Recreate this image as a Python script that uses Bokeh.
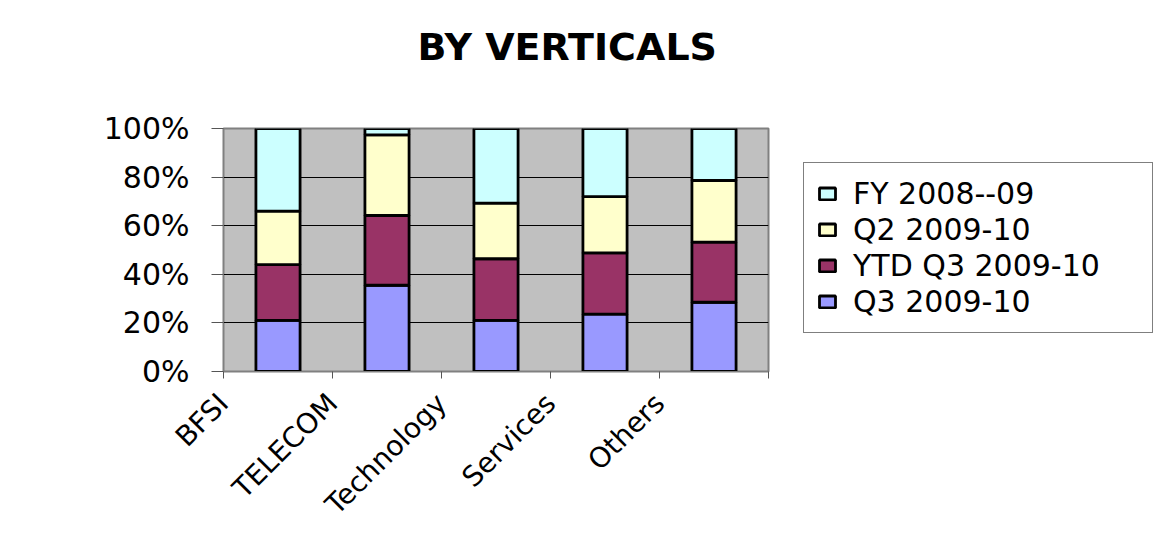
from math import pi
from bokeh.plotting import figure
from bokeh.models import (ColumnDataSource, Range1d, FixedTicker, PrintfTickFormatter,
                          Legend, LegendItem, Title)
from bokeh.embed import file_html
from bokeh.resources import INLINE

categories = ["BFSI", "TELECOM", "Technology", "Services", "Others"]
series_names = ["Q3 2009-10", "YTD Q3 2009-10", "Q2 2009-10", "FY 2008--09"]
q3_2009_10 = [21.0, 35.5, 21.0, 23.6, 28.5]
ytd_q3_2009_10 = [23.0, 28.7, 25.4, 25.2, 24.7]
q2_2009_10 = [22.0, 33.2, 22.9, 23.2, 25.4]
fy_2008_09 = [34.0, 2.6, 30.7, 28.0, 21.4]
colors = ["#9999FF", "#993366", "#FFFFCC", "#CCFFFF"]
y_ticks = [0, 20, 40, 60, 80, 100]

FONT = "DejaVu Sans"

x_pos = [i + 0.5 for i in range(len(categories))]
source = ColumnDataSource(data=dict(
    x=x_pos, cat=categories,
    q3=q3_2009_10, ytd=ytd_q3_2009_10, q2=q2_2009_10, fy=fy_2008_09,
))

p = figure(frame_width=545, frame_height=243, output_backend="svg", toolbar_location=None,
           x_range=Range1d(0, len(categories)), y_range=Range1d(0, 100),
           min_border_left=223, min_border_right=384, min_border_top=128,
           min_border_bottom=151)
p.styles = {"box-shadow": "-2px -2px 0 0 #222, -9px -7px 0 0 #F9EBCB"}
p.background_fill_color = "#C0C0C0"
p.border_fill_color = "white"
p.outline_line_color = "#808080"
p.outline_line_width = 2

renderers = p.vbar_stack(["q3", "ytd", "q2", "fy"], x="x", width=0.405, source=source,
                         fill_color=colors, line_color="black", line_width=2.8)

# grid
p.xgrid.visible = False
p.ygrid.ticker = FixedTicker(ticks=y_ticks)
p.ygrid.grid_line_color = "black"
p.ygrid.grid_line_width = 1

# y axis
p.yaxis.ticker = FixedTicker(ticks=y_ticks)
p.yaxis.formatter = PrintfTickFormatter(format="%d%%")
p.yaxis.major_label_text_font = FONT
p.yaxis.major_label_text_font_size = "30px"
p.yaxis.major_label_text_color = "black"
p.yaxis.major_tick_out = 12
p.yaxis.major_tick_in = 0
p.yaxis.minor_tick_line_color = None
p.yaxis.axis_line_color = "#808080"
p.yaxis.major_tick_line_color = "#555555"
p.yaxis.major_label_standoff = 22

# x axis
p.xaxis.ticker = FixedTicker(ticks=list(range(len(categories) + 1)))
overrides = {i: c for i, c in enumerate(categories)}
overrides[len(categories)] = ""
p.xaxis.major_label_overrides = overrides
p.xaxis.major_label_orientation = pi / 4
p.xaxis.major_label_text_font = FONT
p.xaxis.major_label_text_font_size = "28px"
p.xaxis.major_label_text_color = "black"
p.xaxis.major_tick_out = 7
p.xaxis.major_tick_in = 0
p.xaxis.minor_tick_line_color = None
p.xaxis.axis_line_color = "#808080"
p.xaxis.major_tick_line_color = "#555555"
p.xaxis.major_label_standoff = 20

# title (a blank spacer title sits between the chart title and the plot area)
p.title = None
p.add_layout(Title(text=" ", standoff=14, text_font=FONT, text_font_size="38px"), "above")
p.add_layout(Title(text="BY VERTICALS", align="left", offset=194, standoff=0,
                   text_font=FONT, text_font_size="38px", text_font_style="bold",
                   text_color="black"), "above")

# legend
items = [LegendItem(label=series_names[i], renderers=[renderers[i]]) for i in [3, 2, 1, 0]]
legend = Legend(items=items, location=(35, 38), orientation="vertical",
                label_text_font=FONT, label_text_font_size="30px",
                label_text_color="black", glyph_width=20, glyph_height=15,
                label_standoff=16, label_width=286, spacing=1, padding=13, margin=0,
                border_line_color="black", border_line_width=1,
                background_fill_color="white", background_fill_alpha=1)
p.add_layout(legend, "right")

open("out.html", "w").write(file_html(p, INLINE))
